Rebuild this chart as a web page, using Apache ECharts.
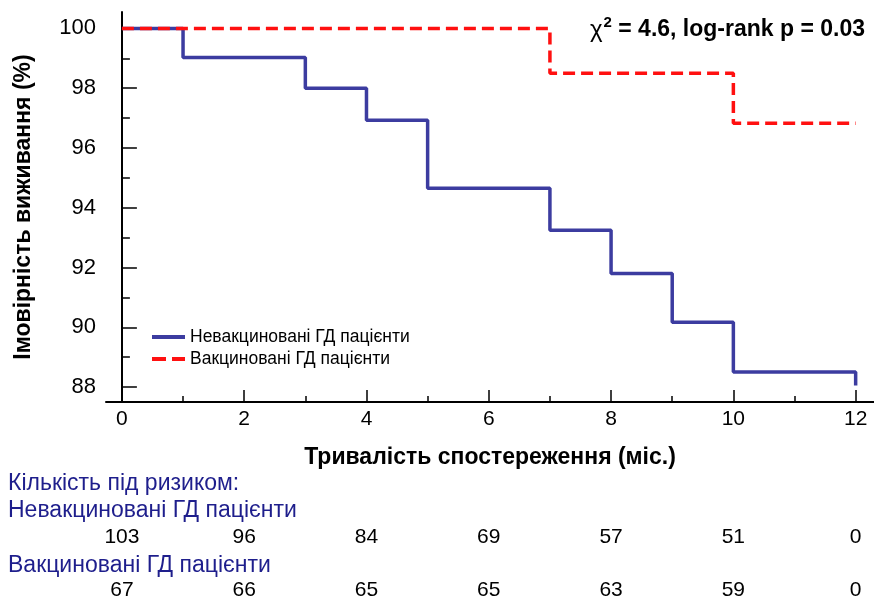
<!DOCTYPE html>
<html><head><meta charset="utf-8">
<script src="https://cdn.jsdelivr.net/npm/echarts@6/dist/echarts.min.js"></script>
<style>html,body{margin:0;padding:0;background:#fff}#c{width:874px;height:601px}</style>
</head><body><div id="c"></div>
<script>
const seriesNames = ['Невакциновані ГД пацієнти', 'Вакциновані ГД пацієнти'];
const unvacTimes = [0, 1, 3, 4, 5, 7, 8, 9, 10, 12];
const unvacSurv = [100, 99.03, 98.0, 96.93, 94.65, 93.25, 91.8, 90.17, 88.5, 88.05];
const vacTimes = [0, 7, 10, 12];
const vacSurv = [100, 98.5, 96.83, 96.83];
const xTicks = [0, 2, 4, 6, 8, 10, 12];
const xMinor = [1, 3, 5, 7, 9, 11];
const yTicks = [88, 90, 92, 94, 96, 98, 100];
const yMinor = [89, 91, 93, 95, 97, 99];
const riskTimes = [0, 2, 4, 6, 8, 10, 12];
const riskUnvac = [103, 96, 84, 69, 57, 51, 0];
const riskVac = [67, 66, 65, 65, 63, 59, 0];
const xTitle = 'Тривалість спостереження (міс.)';
const yTitle = 'Імовірність виживання (%)';
const riskTitle = 'Кількість під ризиком:';

const FONT = "'Liberation Sans', Arial, sans-serif";
const chart = echarts.init(document.getElementById('c'));
const XMIN = -0.26, XMAX = 12.3, YMIN = 87.5, YMAX = 100.55;
const BLUE = '#3c3ca0', RED = '#ff1010';

function pairs(xs, ys) { return xs.map((x, i) => [x, ys[i]]); }

const baseX = { type: 'value', min: XMIN, max: XMAX, position: 'bottom', splitLine: { show: false } };
const baseY = { type: 'value', min: YMIN, max: YMAX, position: 'left', splitLine: { show: false } };

const option = {
  animation: false,
  backgroundColor: '#fff',
  grid: { left: 106, right: 0, top: 12, bottom: 199 },
  xAxis: [
    Object.assign({}, baseX, {
      axisLine: { show: true, lineStyle: { color: '#000', width: 2 } },
      axisTick: { show: true, inside: true, length: 12, customValues: xTicks, lineStyle: { color: '#000', width: 1.5 } },
      axisLabel: { show: true, customValues: xTicks, fontSize: 21, color: '#000', fontFamily: FONT, margin: 7 },
      name: xTitle, nameLocation: 'middle', nameGap: 44,
      nameTextStyle: { fontSize: 23, fontWeight: 'bold', color: '#000', fontFamily: FONT }
    }),
    Object.assign({}, baseX, {
      axisLine: { show: false },
      axisTick: { show: true, inside: true, length: 6, customValues: xMinor, lineStyle: { color: '#000', width: 1.5 } },
      axisLabel: { show: false }
    }),
    Object.assign({}, baseX, {
      offset: 118,
      axisLine: { show: false }, axisTick: { show: false },
      axisLabel: { show: true, customValues: riskTimes, fontSize: 21, color: '#000', fontFamily: FONT, margin: 7,
        formatter: v => String(riskUnvac[riskTimes.indexOf(v)]) }
    }),
    Object.assign({}, baseX, {
      offset: 171,
      axisLine: { show: false }, axisTick: { show: false },
      axisLabel: { show: true, customValues: riskTimes, fontSize: 21, color: '#000', fontFamily: FONT, margin: 7,
        formatter: v => String(riskVac[riskTimes.indexOf(v)]) }
    })
  ],
  yAxis: [
    Object.assign({}, baseY, {
      axisLine: { show: true, lineStyle: { color: '#000', width: 2 } },
      axisTick: { show: true, inside: true, length: 15, customValues: yTicks, lineStyle: { color: '#000', width: 1.5 } },
      axisLabel: { show: true, customValues: yTicks, fontSize: 22, color: '#000', fontFamily: FONT, margin: 10 },
      name: yTitle, nameLocation: 'middle', nameGap: 71,
      nameTextStyle: { fontSize: 23, fontWeight: 'bold', color: '#000', fontFamily: FONT }
    }),
    Object.assign({}, baseY, {
      axisLine: { show: false },
      axisTick: { show: true, inside: true, length: 8, customValues: yMinor, lineStyle: { color: '#000', width: 1.5 } },
      axisLabel: { show: false }
    })
  ],
  legend: {
    orient: 'vertical', left: 147, top: 323, itemWidth: 33, itemHeight: 4, itemGap: 4,
    textStyle: { fontSize: 17.5, color: '#000', fontFamily: FONT },
    data: [
      { name: seriesNames[0], icon: 'path://M0,0h33v4h-33z', itemStyle: { color: BLUE } },
      { name: seriesNames[1], icon: 'path://M0,0h14v4h-14zM20,0h13v4h-13z', itemStyle: { color: RED } }
    ]
  },
  series: [
    { name: seriesNames[0], type: 'line', step: 'end', symbol: 'none', showSymbol: false, xAxisIndex: 0, yAxisIndex: 0,
      data: pairs(unvacTimes, unvacSurv), z: 2,
      lineStyle: { color: BLUE, width: 3.5 }, itemStyle: { color: BLUE } },
    { name: seriesNames[1], type: 'line', step: 'end', symbol: 'none', showSymbol: false, xAxisIndex: 0, yAxisIndex: 0,
      data: pairs(vacTimes, vacSurv), z: 3,
      lineStyle: { color: RED, width: 3.5, type: [12, 6] }, itemStyle: { color: RED } }
  ],
  graphic: [
    { type: 'text', right: 9, top: 15, style: {
        text: '{c|χ}{s|2}{b| = 4.6, log-rank p = 0.03}',
        rich: {
          c: { fontSize: 24, fontFamily: FONT, fill: '#000' },
          s: { fontSize: 15, fontWeight: 'bold', fontFamily: FONT, fill: '#000', padding: [0, 0, 15, 1] },
          b: { fontSize: 23, fontWeight: 'bold', fontFamily: FONT, fill: '#000' }
        } } },
    { type: 'text', left: 8, top: 472, style: { text: riskTitle, fontSize: 23, fontFamily: FONT, fill: '#1e1e8c' } },
    { type: 'text', left: 8, top: 499, style: { text: seriesNames[0], fontSize: 23, fontFamily: FONT, fill: '#1e1e8c' } },
    { type: 'text', left: 8, top: 554, style: { text: seriesNames[1], fontSize: 23, fontFamily: FONT, fill: '#1e1e8c' } }
  ]
};
chart.setOption(option);
</script>
</body></html>
